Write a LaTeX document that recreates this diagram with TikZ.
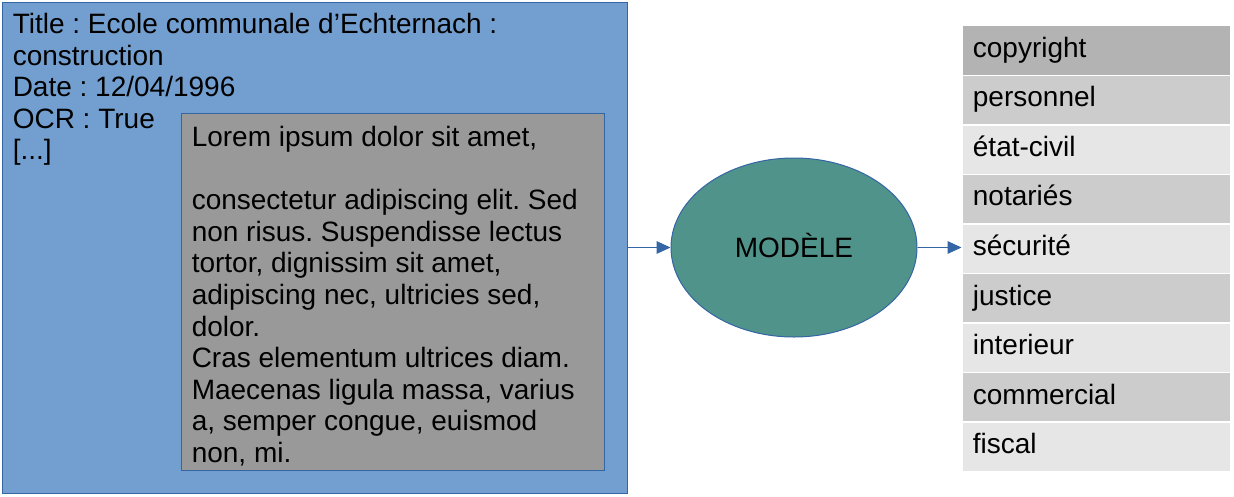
\documentclass[tikz,border=0pt]{standalone}
\usepackage{fontspec}
\setmainfont{Liberation Sans}
\frenchspacing
\usetikzlibrary{arrows.meta,shapes.geometric}
\definecolor{boxblue}{HTML}{729FCF}
\definecolor{edgeblue}{HTML}{3465A4}
\definecolor{ocrgray}{HTML}{999999}
\definecolor{modelteal}{HTML}{50938A}
\definecolor{rowdark}{HTML}{B3B3B3}
\definecolor{rowmid}{HTML}{CCCCCC}
\definecolor{rowlight}{HTML}{E6E6E6}
\begin{document}
\begin{tikzpicture}[x=0.75pt,y=-0.75pt,
    every node/.style={font=\fontsize{21}{23.7}\selectfont},
    flow/.style={draw=edgeblue,line width=0.75pt,-{Triangle[length=10.5pt,width=9.5pt]}}]
      \useasboundingbox (0,0) rectangle (1234,496);
      \node[draw=edgeblue,fill=boxblue,line width=0.75pt,minimum width=468.75pt,minimum height=368.25pt,inner sep=0] (meta) at (314.5,247.5) {};
      \node[anchor=north west,inner sep=0,align=left] (metatext) at (12.5,13)
        {Title : Ecole communale d’Echternach :\\construction\\Date : 12/04/1996\\OCR : True\\{[...]}};
      \node[draw=edgeblue,fill=ocrgray,line width=0.75pt,minimum width=317.6pt,minimum height=267.4pt,inner sep=0] (ocr) at (392.75,292.25) {};
      \node[anchor=north west,inner sep=0,align=left] (ocrtext) at (191.5,126)
        {Lorem ipsum dolor sit amet,\\[23.7pt]consectetur adipiscing elit. Sed\\non risus. Suspendisse lectus\\tortor, dignissim sit amet,\\adipiscing nec, ultricies sed,\\dolor.\\Cras elementum ultrices diam.\\Maecenas ligula massa, varius\\a, semper congue, euismod\\non, mi.};
      \node[ellipse,draw=edgeblue,fill=modelteal,line width=0.75pt,minimum width=184.5pt,minimum height=134.25pt,inner sep=0,text height=15pt,text depth=0pt] (model) at (794,247.5) {MODÈLE};
      \foreach \i / \word / \shade in {1/copyright/rowdark, 2/personnel/rowmid, 3/état-civil/rowlight,
          4/notariés/rowmid, 5/sécurité/rowlight, 6/justice/rowmid, 7/interieur/rowlight,
          8/commercial/rowmid, 9/fiscal/rowlight} {
        \node[fill=\shade,draw=white,line width=1.1pt,anchor=north west,minimum width=201pt,minimum height=37.16pt,
          text width=185pt,inner xsep=8pt,text height=15pt,text depth=4.8pt,align=left] (row\i) at (961.5,{25+49.55*(\i-1)}) {\word};
      }
      \draw[flow] (meta.east) -- (model.west);
      \draw[flow] (model.east) -- (model.east -| row5.west);
    \end{tikzpicture}
\end{document}
